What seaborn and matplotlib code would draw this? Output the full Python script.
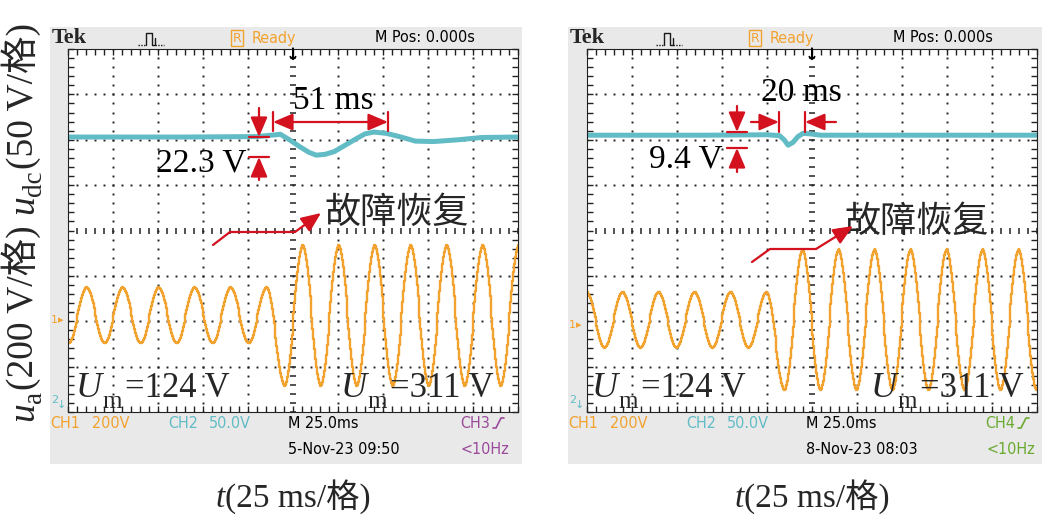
import numpy as np
import pandas as pd
import matplotlib
matplotlib.use("Agg")
import matplotlib.pyplot as plt
import matplotlib.transforms as mtransforms
from matplotlib import font_manager
from matplotlib.lines import Line2D
from matplotlib.patches import Rectangle, FancyArrowPatch
import seaborn as sns

# scope settings (10 x 8 divisions)
MS_PER_DIV = 25
CH1_V_PER_DIV = 200   # u_a
CH2_V_PER_DIV = 50    # u_dc

# ---- left capture (5-Nov-23 09:50) ----
# u_a extrema: time (ms), value (V)
ua1_t = [-124.6, -114.6, -104.6, -94.6, -84.6, -74.6, -64.6, -54.6, -44.6, -34.6,
         -24.6, -14.6, -4.6, 5.4, 15.4, 25.4, 35.4, 45.4, 55.4, 65.4,
         75.4, 85.4, 95.4, 105.4, 115.4, 125.4]
ua1_v = [-124, 124, -124, 124, -124, 124, -124, 124, -124, 124,
         -124, 124, -311, 311, -311, 311, -311, 311, -311, 311,
         -311, 311, -311, 311, -311, 311]
# u_dc points: time (ms), value (V)
udc1_t = [-125, -60, -20, -7, -2, 4, 9, 13, 18, 23, 29, 35, 40, 45, 52, 60, 68, 78, 92, 105, 125]
udc1_v = [296, 296, 296.5, 299, 293, 285, 279, 276, 277, 280, 287, 294, 299.5, 301.5, 300, 296, 291.5, 291, 293, 295.5, 296]

# ---- right capture (8-Nov-23 08:03) ----
ua2_t = [-125.2, -115.2, -105.2, -95.2, -85.2, -75.2, -65.2, -55.2, -45.2, -35.2,
         -25.2, -15.2, -5.2, 4.8, 14.8, 24.8, 34.8, 44.8, 54.8, 64.8,
         74.8, 84.8, 94.8, 104.8, 114.8, 124.8]
ua2_v = [124, -124, 124, -124, 124, -124, 124, -124, 124, -124,
         124, -311, 311, -311, 311, -311, 311, -311, 311, -311,
         311, -311, 311, -311, 311, -311]
udc2_t = [-125, -60, -25, -18, -15.5, -13.3, -10.6, -7.8, -5, -1, 5, 40, 80, 125]
udc2_v = [298, 298, 298.5, 297.5, 293, 287, 290, 296.5, 300, 299.5, 298, 298, 298, 298]

# channel ground positions (divisions from screen centre)
ch1_gnd = [-1.87, -1.97]
ch2_gnd = [-3.86, -3.86]

headers = ["5-Nov-23 09:50", "8-Nov-23 08:03"]
trig_ch = ["CH3", "CH4"]

ORANGE = "#f2a22e"
CYAN = "#62bcc6"
RED = "#d4121f"
GREY = "#e9e9e9"
TRIG_COL = ["#9a4a9a", "#6aaa30"]

sns.set_theme(style="white")
plt.rcParams["font.family"] = ["Liberation Serif", "Noto Sans CJK SC"]

names = {f.name for f in font_manager.fontManager.ttflist}
SCOPE = "Liberation Sans Narrow" if "Liberation Sans Narrow" in names else "DejaVu Sans"
SC = dict(family=SCOPE, fontstretch="condensed", fontsize=11.5)
SERIF = ["Liberation Serif", "Noto Sans CJK SC"]

W, H = 1042, 519
fig = plt.figure(figsize=(W / 100, H / 100), dpi=100)
fig.patch.set_facecolor("white")
PX = mtransforms.Affine2D().scale(1 / W, -1 / H).translate(0, 1) + fig.transFigure


def txt(x, y, s, **kw):
    kw.setdefault("zorder", 6)
    return fig.text(x, y, s, transform=PX, **kw)


def seg(xs, ys, **kw):
    kw.setdefault("zorder", 6)
    fig.add_artist(Line2D(xs, ys, transform=PX, **kw))


def arrow(x1, y1, x2, y2, both=False):
    style = "<|-|>" if both else "-|>"
    fig.add_artist(FancyArrowPatch((x1, y1), (x2, y2), transform=PX,
                                   arrowstyle=style + ",head_length=0.75,head_width=0.32",
                                   mutation_scale=16, color=RED, lw=1.6,
                                   shrinkA=0, shrinkB=0, zorder=7))


def run_h(x, y, parts, center=False):
    """horizontal run of text pieces on a common baseline; parts = (text, kw, dy, gap)"""
    r = fig.canvas.get_renderer()
    objs = [(txt(0, 0, s, ha="left", va="baseline", **kw), dy, gap) for s, kw, dy, gap in parts]
    lens = [o.get_window_extent(r).width + gap for o, dy, gap in objs]
    pos = x - sum(lens) / 2 if center else x
    for (o, dy, gap), L in zip(objs, lens):
        o.set_position((pos, y + dy))
        pos += L


def run_v(xb, y0, parts):
    """text pieces rotated 90 deg, reading upward from y0 with baseline at xb"""
    r = fig.canvas.get_renderer()
    pos = y0
    for s, kw, dy, gap in parts:
        o = txt(xb + dy, pos, s, ha="left", va="baseline", rotation=90,
                rotation_mode="anchor", **kw)
        pos -= o.get_window_extent(r).height + gap


def trace_from_extrema(tx, vx, step=0.5):
    tx = np.asarray(tx, float)
    vx = np.asarray(vx, float)
    t = np.arange(-125, 125.01, step)
    i = np.clip(np.searchsorted(tx, t) - 1, 0, len(tx) - 2)
    f = np.clip((t - tx[i]) / (tx[i + 1] - tx[i]), 0, 1)
    v = vx[i] + (vx[i + 1] - vx[i]) * (1 - np.cos(np.pi * f)) / 2
    return t, v


def draw_screen(ax, ua_t, ua_v, udc_t, udc_v, g1, g2):
    ax.set_facecolor("white")
    ax.set_xlim(-5 * MS_PER_DIV, 5 * MS_PER_DIV)
    ax.set_ylim(-4, 4)
    # dotted graticule
    fine_t = np.arange(-125, 125.01, 5)
    fine_y = np.arange(-4, 4.01, 0.2)
    for gx in np.arange(-100, 101, 25):
        if gx == 0:
            continue
        ax.plot(np.full_like(fine_y, gx), fine_y, ls="none", marker="s", ms=1.4, color="#222222", mew=0)
    for gy in np.arange(-3, 4, 1):
        if gy == 0:
            continue
        ax.plot(fine_t, np.full_like(fine_t, gy, dtype=float), ls="none", marker="s", ms=1.4, color="#222222", mew=0)
    # centre cross with minor ticks
    ax.plot(np.zeros_like(fine_y), fine_y, ls="none", marker="_", ms=5, mew=1.1, color="#222222")
    ax.plot(fine_t, np.zeros_like(fine_t), ls="none", marker="|", ms=5, mew=1.1, color="#222222")
    ax.set_xticks(np.arange(-125, 126, 25))
    ax.set_xticks(fine_t, minor=True)
    ax.set_yticks(np.arange(-4, 5, 1))
    ax.set_yticks(fine_y, minor=True)
    ax.tick_params(which="both", direction="in", top=True, right=True, bottom=True, left=True,
                   length=4, width=1, color="#222222", labelbottom=False, labelleft=False)
    for sp in ax.spines.values():
        sp.set_color("#222222")
        sp.set_linewidth(0.8)

    t, v = trace_from_extrema(ua_t, ua_v)
    df_a = pd.DataFrame({"t": t, "div": v / CH1_V_PER_DIV + g1})
    sns.lineplot(data=df_a, x="t", y="div", ax=ax, color=ORANGE, lw=1.7,
                 drawstyle="steps-mid", estimator=None, sort=False)
    df_dc = pd.DataFrame({"t": udc_t, "div": np.asarray(udc_v) / CH2_V_PER_DIV + g2})
    sns.lineplot(data=df_dc, x="t", y="div", ax=ax, color=CYAN, lw=3.6,
                 estimator=None, sort=False)
    ax.set_xlabel("")
    ax.set_ylabel("")


# grey scope frames
for x0, w in [(50, 472), (568, 474)]:
    fig.add_artist(Rectangle((x0, 27), w, 437, transform=PX, facecolor=GREY,
                             edgecolor="none", zorder=-1))

axes = []
for k, x0 in enumerate([68, 587]):
    ax = fig.add_axes([x0 / W, 1 - 412 / H, 450 / W, 363 / H])
    axes.append(ax)

draw_screen(axes[0], ua1_t, ua1_v, udc1_t, udc1_v, ch1_gnd[0], ch2_gnd[0])
draw_screen(axes[1], ua2_t, ua2_v, udc2_t, udc2_v, ch1_gnd[1], ch2_gnd[1])

# scope header / footer texts
for k, (fx, px0) in enumerate([(50, 68), (568, 587)]):
    cx = px0 + 225
    txt(fx + 2, 38, "Tek", family="Liberation Serif", weight="bold", fontsize=16, va="center")
    # acquisition symbol
    px = fx + 88
    seg([px, px + 8], [45, 45], color="k", lw=1, ls=(0, (1, 1)))
    seg([px + 8, px + 8, px + 14, px + 14, px + 17, px + 17], [45, 33, 33, 45, 45, 38], color="k", lw=1)
    seg([px + 17, px + 26], [45, 45], color="k", lw=1, ls=(0, (1, 1)))
    rx = fx + 181
    txt(rx + 6, 38, "R", color=ORANGE, fontsize=9, ha="center", va="center",
        family=SCOPE, bbox=dict(boxstyle="square,pad=0.15", fc="none", ec=ORANGE, lw=1))
    txt(rx + 21, 38, "Ready", color=ORANGE, va="center", **SC)
    txt(fx + 325, 38, "M Pos: 0.000s", color="black", va="center", **SC)
    # trigger and channel markers
    txt(cx, 55, "\u2193", color="black", fontsize=12, ha="center", va="center",
        family="DejaVu Sans", weight="bold")
    g1y = 412 - (ch1_gnd[k] + 4) * 363 / 8
    txt(fx + 1, g1y + 5, "1", color=ORANGE, fontsize=8, va="center", family=SCOPE)
    txt(fx + 8, g1y + 5, "\u25b8", color=ORANGE, fontsize=8, va="center", family="DejaVu Sans")
    txt(fx + 1, 400, "2", color=CYAN, fontsize=8, va="center", family=SCOPE)
    txt(fx + 7, 405, "\u2193", color=CYAN, fontsize=8, va="center", family="DejaVu Sans")
    # footer
    txt(fx, 423, "CH1", color=ORANGE, va="center", **SC)
    txt(fx + 42, 423, "200V", color=ORANGE, va="center", **SC)
    txt(fx + 118, 423, "CH2", color=CYAN, va="center", **SC)
    txt(fx + 159, 423, "50.0V", color=CYAN, va="center", **SC)
    txt(fx + 238, 423, "M 25.0ms", color="black", va="center", **SC)
    txt(fx + 238, 450, headers[k], color="black", va="center", **SC)
    tcx = fx + 410 if k == 0 else fx + 417
    txt(tcx, 423, trig_ch[k], color=TRIG_COL[k], va="center", **SC)
    ex = tcx + 33
    seg([ex, ex + 3, ex + 8, ex + 11], [428, 428, 418, 418], color=TRIG_COL[k], lw=1.2)
    txt(tcx + 1, 450, "<10Hz", color=TRIG_COL[k], va="center", **SC)

# axis titles
YL = 27
run_v(33, 421, [
    ("u", dict(family=SERIF, style="italic", fontsize=YL), 0, -1),
    ("a", dict(family=SERIF, fontsize=YL * 0.72), 8, 1),
    ("(200 V/格)", dict(family=SERIF, fontsize=YL), 0, 12),
    ("u", dict(family=SERIF, style="italic", fontsize=YL), 0, -1),
    ("dc", dict(family=SERIF, fontsize=YL * 0.72), 8, 1),
    ("(50 V/格)", dict(family=SERIF, fontsize=YL), 0, 0),
])
for cxl in [293, 812]:
    run_h(cxl, 507, [
        ("t", dict(family=SERIF, style="italic", fontsize=24), 0, 1),
        ("(25 ms/格)", dict(family=SERIF, fontsize=24), 0, 0),
    ], center=True)

ANN = dict(fontsize=24, color="black")


def um_label(x, value):
    # U, subscript m, then the value on the same baseline
    txt(x, 397, "U", family=SERIF, style="italic", fontsize=26, ha="left", va="baseline")
    txt(x + 26, 408, "m", family=SERIF, fontsize=18, ha="left", va="baseline")
    txt(x + 49, 397, "=%d V" % value, family=SERIF, fontsize=25, ha="left", va="baseline")


# left annotations
txt(333, 101, "51 ms", ha="center", va="center", **ANN)
arrow(273, 122, 388, 122, both=True)
seg([273, 273], [112, 131], color=RED, lw=1.6)
seg([388, 388], [112, 131], color=RED, lw=1.6)
arrow(259, 108, 259, 137)
seg([249, 269], [137, 137], color=RED, lw=1.6)
arrow(259, 180, 259, 157)
seg([249, 269], [157, 157], color=RED, lw=1.6)
txt(246, 163, "22.3 V", ha="right", va="center", **ANN)
txt(324, 213, "故障恢复", ha="left", va="center", fontsize=26, family="Noto Sans CJK SC")
seg([213, 230, 295], [245, 232, 232], color=RED, lw=1.6)
arrow(295, 232, 321, 213)
um_label(76, 124)
um_label(341, 311)

# right annotations
txt(801, 93, "20 ms", ha="center", va="center", **ANN)
arrow(751, 122, 779, 122)
seg([779, 779], [112, 132], color=RED, lw=1.6)
arrow(836, 122, 805, 122)
seg([805, 805], [112, 132], color=RED, lw=1.6)
arrow(737, 106, 737, 132)
seg([727, 747], [132, 132], color=RED, lw=1.6)
arrow(737, 172, 737, 148)
seg([727, 747], [148, 148], color=RED, lw=1.6)
txt(723, 159, "9.4 V", ha="right", va="center", **ANN)
txt(844, 222, "故障恢复", ha="left", va="center", fontsize=26, family="Noto Sans CJK SC")
seg([752, 770, 816], [262, 249, 249], color=RED, lw=1.6)
arrow(816, 249, 853, 226)
um_label(592, 124)
um_label(871, 311)

fig.savefig("out.png", dpi=100, facecolor="white")
